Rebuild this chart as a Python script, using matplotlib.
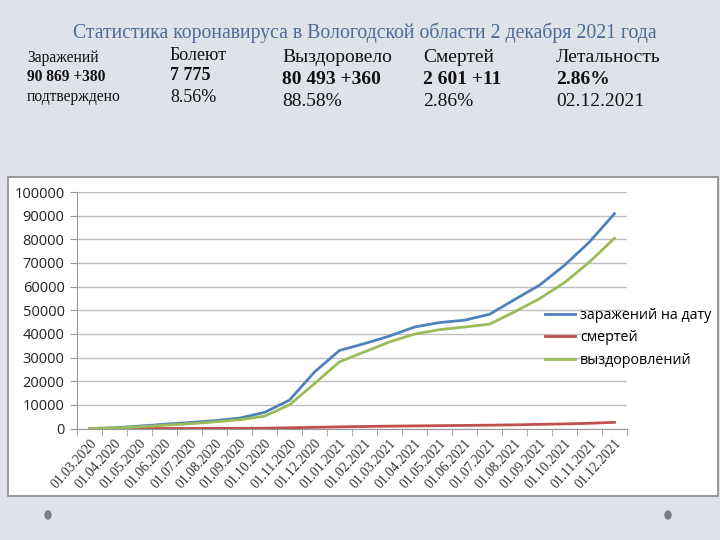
import matplotlib.pyplot as plt
import matplotlib.patches as patches
import numpy as np

dates = ['01.03.2020', '01.04.2020', '01.05.2020', '01.06.2020', '01.07.2020', '01.08.2020',
         '01.09.2020', '01.10.2020', '01.11.2020', '01.12.2020', '01.01.2021', '01.02.2021',
         '01.03.2021', '01.04.2021', '01.05.2021', '01.06.2021', '01.07.2021', '01.08.2021',
         '01.09.2021', '01.10.2021', '01.11.2021', '01.12.2021']
infected = [0, 300, 1000, 1800, 2500, 3300, 4400, 6800, 12000, 23900, 33000, 35900,
            39100, 42900, 44800, 45800, 48300, 54500, 60600, 69000, 78900, 90869]
deaths = [0, 0, 5, 15, 25, 40, 60, 120, 300, 500, 700, 850,
          1000, 1100, 1200, 1300, 1400, 1550, 1750, 1950, 2200, 2601]
recovered = [0, 200, 700, 1400, 2000, 2800, 3700, 5200, 10000, 19000, 28200, 32400,
             36600, 39900, 41800, 42900, 44100, 49300, 54900, 61700, 70400, 80493]

series_names = ['заражений на дату', 'смертей', 'выздоровлений']
colors = ['#4f81bd', '#c0504d', '#9bbb59']

title = 'Статистика коронавируса в Вологодской области 2 декабря 2021 года'
stats = [
    (27, ['Заражений', '90 869 +380', 'подтверждено'], 11.2, [58, 77, 97]),
    (170, ['Болеют', '7 775', '8.56%'], 13, [55, 76, 98]),
    (282, ['Выздоровело', '80 493 +360', '88.58%'], 14, [58, 80, 102]),
    (423, ['Смертей', '2 601 +11', '2.86%'], 14, [58, 80, 102]),
    (556, ['Летальность', '2.86%', '02.12.2021'], 14, [58, 80, 102]),
]

W, H = 720, 540
fig = plt.figure(figsize=(7.2, 5.4), dpi=100)
fig.patch.set_facecolor('#dfe3e9')

# white chart box behind the axes
fig.patches.append(patches.Rectangle((8 / W, 1 - 496 / H), 710 / W, 319 / H,
                                     transform=fig.transFigure, facecolor='white',
                                     edgecolor='#8a8a8a', linewidth=1.2, zorder=-5))
# decorative dots
for dx in (48, 668):
    fig.patches.append(patches.Ellipse((dx / W, 1 - 515 / H), 6 / W, 8 / H,
                                       transform=fig.transFigure, color='#7a7f86', zorder=-5))

serif = ['Liberation Serif', 'DejaVu Serif']
sans = ['Open Sans', 'DejaVu Sans']
fig.text(365 / W, 1 - 33 / H, title, ha='center', va='center', fontsize=14.2,
         color='#4d6a98', family=serif)
for x, lines, fs, ys in stats:
    for i, (t, y) in enumerate(zip(lines, ys)):
        fig.text(x / W, 1 - y / H, t, ha='left', va='center', family=serif, fontsize=fs,
                 fontweight='bold' if i == 1 else 'normal', color='#111111')

ax = fig.add_axes([77 / W, 1 - 428.5 / H, 550 / W, 236.5 / H])
ax.patch.set_alpha(0)
x = np.arange(len(dates))
data = [infected, deaths, recovered]
for vals, name, c in zip(data, series_names, colors):
    ax.plot(x, vals, color=c, linewidth=2.0, label=name)

ax.set_xlim(-0.5, len(dates) - 0.5)
ax.set_ylim(0, 100000)
ax.set_yticks(np.arange(0, 100001, 10000))
ax.set_yticklabels([str(v) for v in range(0, 100001, 10000)], family=sans,
                   fontsize=10.5, color='#222222')
ax.yaxis.grid(True, color='#bdbdbd', linewidth=1.0)
ax.set_axisbelow(True)
ax.set_xticks(x)
ax.set_xticklabels(dates, rotation=48, ha='right', va='top', rotation_mode='anchor',
                   family=serif, fontsize=9.8, color='#333333')
ax.tick_params(axis='x', which='major', length=0, pad=6)
ax.set_xticks(np.arange(-0.5, len(dates), 1), minor=True)
ax.tick_params(axis='x', which='minor', length=5, color='#999999', direction='out')
ax.tick_params(axis='y', length=5, color='#999999', pad=4)
for s in ['top', 'right']:
    ax.spines[s].set_visible(False)
ax.spines['left'].set_color('#999999')
ax.spines['bottom'].set_color('#999999')

leg = ax.legend(loc='center left', bbox_to_anchor=(0.851, 0.383), frameon=False,
                prop={'family': sans, 'size': 10.3}, borderpad=0, borderaxespad=0,
                handlelength=2.1, handletextpad=0.35, labelspacing=0.55)

fig.savefig('out.png', dpi=100, facecolor=fig.get_facecolor())
